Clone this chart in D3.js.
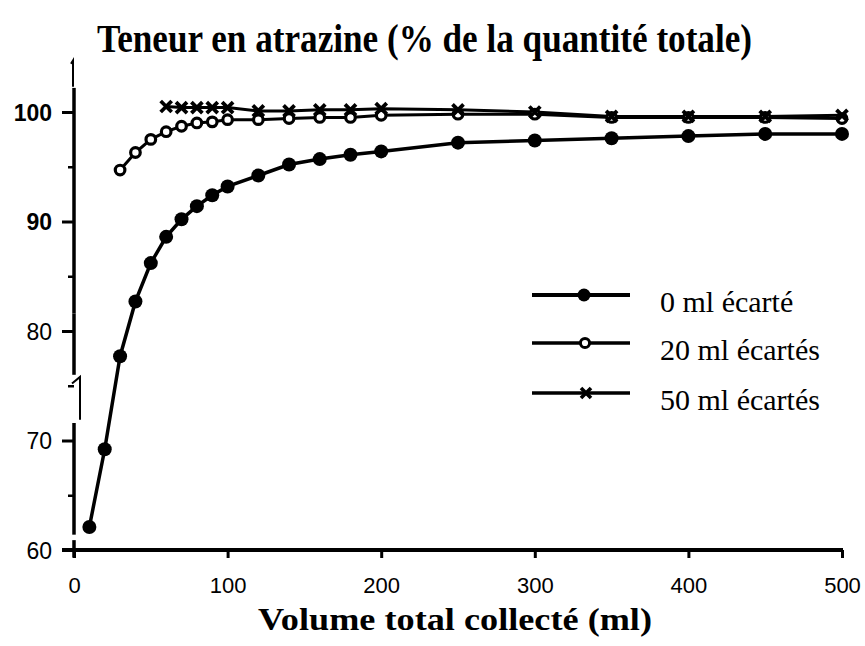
<!DOCTYPE html>
<html>
<head>
<meta charset="utf-8">
<script src="https://cdn.jsdelivr.net/npm/d3@7"></script>
<style>
  body { margin: 0; background: #fff; }
  svg { display: block; }
</style>
</head>
<body>
<svg id="chart" width="865" height="646"></svg>
<script>
// données
const xTicks = [0, 100, 200, 300, 400, 500];
const yTicks = [60, 70, 80, 90, 100];
const yMinor = [65, 75, 85, 95];

const vol0 = [10, 20, 30, 40, 50, 60, 70, 80, 90, 100, 120, 140, 160, 180, 200, 250, 300, 350, 400, 450, 500];
const val0 = [62.1, 69.2, 77.7, 82.7, 86.2, 88.6, 90.2, 91.4, 92.4, 93.2, 94.2, 95.2, 95.7, 96.1, 96.4, 97.2, 97.4, 97.6, 97.8, 98.0, 98.0];

const vol20 = [30, 40, 50, 60, 70, 80, 90, 100, 120, 140, 160, 180, 200, 250, 300, 350, 400, 450, 500];
const val20 = [94.7, 96.3, 97.5, 98.2, 98.7, 99.0, 99.1, 99.3, 99.3, 99.4, 99.5, 99.5, 99.7, 99.8, 99.8, 99.5, 99.5, 99.5, 99.4];

const vol50 = [60, 70, 80, 90, 100, 120, 140, 160, 180, 200, 250, 300, 350, 400, 450, 500];
const val50 = [100.5, 100.4, 100.4, 100.4, 100.4, 100.1, 100.1, 100.2, 100.2, 100.3, 100.2, 100.0, 99.6, 99.6, 99.6, 99.7];

const legendLabels = ["0 ml écarté", "20 ml écartés", "50 ml écartés"];

const svg = d3.select("#chart");

const x = d3.scaleLinear().domain([0, 500]).range([74, 842]);
const y = d3.scaleLinear().domain([60, 100]).range([550, 112]);

// titre
svg.append("text")
  .attr("x", 97).attr("y", 52)
  .attr("textLength", 655).attr("lengthAdjust", "spacingAndGlyphs")
  .style("font-family", "'Liberation Serif', 'Times New Roman', serif")
  .style("font-weight", "bold").style("font-size", "39px")
  .text("Teneur en atrazine (% de la quantité totale)");

// titre axe x
svg.append("text")
  .attr("x", 258).attr("y", 630)
  .attr("textLength", 394).attr("lengthAdjust", "spacingAndGlyphs")
  .style("font-family", "'Liberation Serif', 'Times New Roman', serif")
  .style("font-weight", "bold").style("font-size", "32px")
  .text("Volume total collecté (ml)");

// axe x
const gx = svg.append("g").attr("transform", `translate(0,${y(60)})`)
  .call(d3.axisBottom(x).tickValues(xTicks).tickSize(8).tickSizeOuter(0).tickFormat(d3.format("d")));
gx.select(".domain").remove();
gx.selectAll(".tick line").attr("stroke", "#000").attr("stroke-width", 3);
gx.selectAll(".tick text")
  .attr("y", 27)
  .style("font-family", "'Liberation Sans', Arial, sans-serif")
  .style("font-size", "22px").attr("fill", "#000");
svg.append("line")
  .attr("x1", x(0) - 12).attr("x2", x(500) + 1)
  .attr("y1", y(60)).attr("y2", y(60))
  .attr("stroke", "#000").attr("stroke-width", 4);

// axe y (coupé)
const gy = svg.append("g").attr("transform", `translate(${x(0)},0)`)
  .call(d3.axisLeft(y).tickValues(yTicks).tickSize(12).tickPadding(10));
gy.select(".domain").remove();
gy.selectAll(".tick line").attr("stroke", "#000").attr("stroke-width", 3);
gy.selectAll(".tick text")
  .style("font-family", "'Liberation Sans', Arial, sans-serif")
  .style("font-size", "23px")
  .style("font-weight", d => d >= 90 ? "bold" : "normal")
  .attr("fill", "#000").attr("dy", "0.36em");

const gm = svg.append("g").attr("transform", `translate(${x(0)},0)`)
  .call(d3.axisLeft(y).tickValues(yMinor).tickSize(6).tickFormat(""));
gm.select(".domain").remove();
gm.selectAll(".tick line").attr("stroke", "#000").attr("stroke-width", 2.5);

const axisSegs = [[102.2, 81.6], [81.6, 76.0], [71.6, 61.4], [60.9, 59.3]];
svg.selectAll(".yseg")
  .data(axisSegs)
  .join("line")
  .attr("class", "yseg")
  .attr("x1", x(0)).attr("x2", x(0))
  .attr("y1", d => y(d[0])).attr("y2", d => y(d[1]))
  .attr("stroke", "#000").attr("stroke-width", 3.5);

// petits signes de coupure
const brk = d3.path();
brk.moveTo(x(0) - 3, y(104.4)); brk.lineTo(x(0) - 1, y(104.7)); brk.lineTo(x(0) - 1, y(102.3));
brk.moveTo(x(0) - 2, y(75.2)); brk.lineTo(x(0) + 6, y(75.8)); brk.lineTo(x(0) + 6, y(71.9));
svg.append("path").attr("d", brk.toString())
  .attr("fill", "none").attr("stroke", "#000").attr("stroke-width", 2);

// courbes
const line = d3.line().x(d => x(d[0])).y(d => y(d[1]));
const s0 = vol0.map((v, i) => [v, val0[i]]);
const s20 = vol20.map((v, i) => [v, val20[i]]);
const s50 = vol50.map((v, i) => [v, val50[i]]);

function crossPath(s) {
  return `M${-s},${-s}L${s},${s}M${-s},${s}L${s},${-s}`;
}

svg.append("path").datum(s0).attr("d", line)
  .attr("fill", "none").attr("stroke", "#000").attr("stroke-width", 3.5);
svg.append("path").datum(s20).attr("d", line)
  .attr("fill", "none").attr("stroke", "#000").attr("stroke-width", 3);
svg.append("path").datum(s50).attr("d", line)
  .attr("fill", "none").attr("stroke", "#000").attr("stroke-width", 3);

svg.selectAll(".m0").data(s0).join("circle").attr("class", "m0")
  .attr("cx", d => x(d[0])).attr("cy", d => y(d[1])).attr("r", 7)
  .attr("fill", "#000");
svg.selectAll(".m20").data(s20).join("circle").attr("class", "m20")
  .attr("cx", d => x(d[0])).attr("cy", d => y(d[1])).attr("r", 4.8)
  .attr("fill", "#fff").attr("stroke", "#000").attr("stroke-width", 3.2);
svg.selectAll(".m50").data(s50).join("path").attr("class", "m50")
  .attr("transform", d => `translate(${x(d[0])},${y(d[1])})`)
  .attr("d", crossPath(5.5))
  .attr("fill", "none").attr("stroke", "#000").attr("stroke-width", 3.8);

// légende
const legY = [295, 343, 393];
const leg = svg.selectAll(".leg").data(legendLabels).join("g").attr("class", "leg")
  .attr("transform", (d, i) => `translate(532,${legY[i]})`);
leg.append("line").attr("x1", 0).attr("x2", 98)
  .attr("stroke", "#000").attr("stroke-width", (d, i) => i == 0 ? 4 : 3.5);
leg.each(function (d, i) {
  const g = d3.select(this);
  if (i == 0) g.append("circle").attr("cx", 52).attr("r", 6.5).attr("fill", "#000");
  else if (i == 1) g.append("circle").attr("cx", 53).attr("r", 4.6)
    .attr("fill", "#fff").attr("stroke", "#000").attr("stroke-width", 3);
  else g.append("path").attr("transform", "translate(54,0)").attr("d", crossPath(5))
    .attr("fill", "none").attr("stroke", "#000").attr("stroke-width", 3.6);
});
leg.append("text")
  .attr("x", 128).attr("y", 17)
  .style("font-family", "'Liberation Serif', 'Times New Roman', serif")
  .style("font-size", "30px")
  .text(d => d);
</script>
</body>
</html>
